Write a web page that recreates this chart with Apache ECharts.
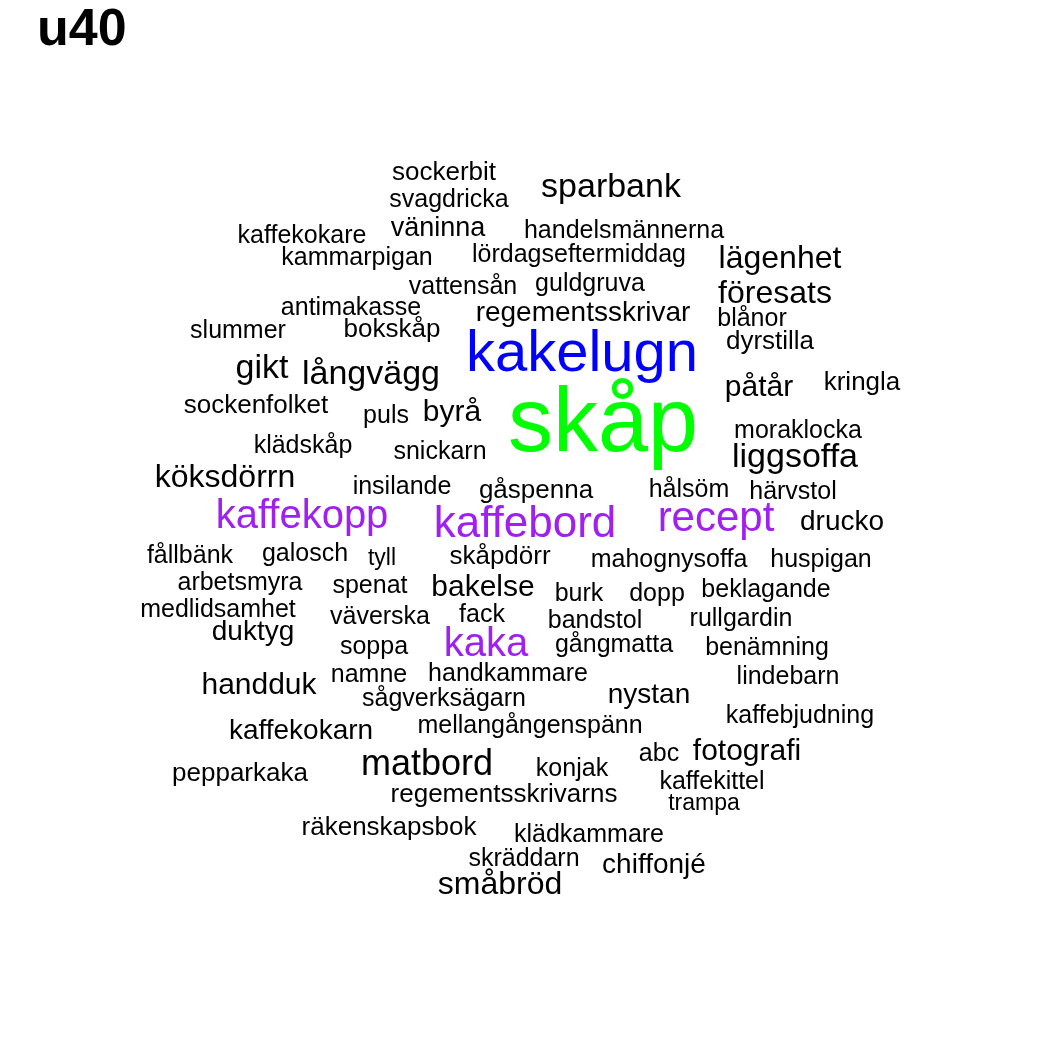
<!DOCTYPE html>
<html><head><meta charset="utf-8">
<script src="https://cdn.jsdelivr.net/npm/echarts@6/dist/echarts.min.js"></script>
<style>body{margin:0;background:#fff}#c{width:1050px;height:1050px}</style>
</head><body><div id="c"></div>
<script>
// word cloud: words placed in a hidden 0..1050 coordinate space
const words = ['sockerbit','svagdricka','sparbank','kaffekokare','väninna','handelsmännerna','kammarpigan','lördagseftermiddag','lägenhet','vattensån','guldgruva','föresats','antimakasse','regementsskrivar','blånor','slummer','bokskåp','kakelugn','dyrstilla','gikt','långvägg','påtår','kringla','sockenfolket','puls','byrå','skåp','moraklocka','klädskåp','snickarn','liggsoffa','köksdörrn','insilande','gåspenna','hålsöm','härvstol','kaffekopp','kaffebord','recept','drucko','fållbänk','galosch','tyll','skåpdörr','mahognysoffa','huspigan','arbetsmyra','spenat','bakelse','burk','dopp','beklagande','medlidsamhet','väverska','fack','bandstol','rullgardin','duktyg','soppa','kaka','gångmatta','benämning','namne','handkammare','lindebarn','handduk','sågverksägarn','nystan','kaffebjudning','kaffekokarn','mellangångenspänn','abc','fotografi','pepparkaka','matbord','konjak','kaffekittel','regementsskrivarns','trampa','räkenskapsbok','klädkammare','skräddarn','chiffonjé','småbröd'];
const xs = [444,449,611,302,438,624,357,579,780,463,590,775,351,583,752,238,392,582,770,262,371,759,862,256,386,452,603,798,303,440,795,225,402,536,689,793,302,525,716,842,190,305,382,500,669,821,240,370,483,579,657,766,218,380,482,595,741,253,374,486,614,767,369,508,788,259,444,649,800,301,530,659,747,240,427,572,712,504,704,389,589,524,654,500];
const ys = [173,200,188,236,229,231,258,255,259,287,284,294,308,313,319,331,330,355,342,369,375,388,383,406,416,413,426,431,446,452,458,478,487,491,490,492,517,525,519,522,556,554,559,557,560,560,583,586,588,594,594,590,610,617,615,621,619,632,647,645,645,648,675,674,677,686,699,695,716,731,726,754,752,774,765,769,782,795,804,828,835,859,865,885];
const sizes = [26,25,34,25,27,25,25,25,32,25,25,32,25,28,25,25,26,58,26,34,34,30,26,26,25,30,90,25,25,25,34,32,25,26,25,25,40,44,42,28,25,25,23,26,25,25,25,25,30,25,25,25,25,25,25,25,25,28,25,40,25,25,25,25,25,30,25,28,25,28,25,25,30,26,36,25,25,26,23,26,25,25,28,32];
const colorOf = {skåp:'#00ff00', kakelugn:'#0000ff', kaffekopp:'#a020f0', kaffebord:'#a020f0', recept:'#a020f0', kaka:'#a020f0'};
const FONT = 'Liberation Sans, Arial, sans-serif';

const data = words.map((w, i) => ({
  name: w, value: [xs[i], ys[i]],
  label: { fontSize: sizes[i], color: colorOf[w] || '#000000', fontFamily: FONT, opacity: 1 }
}));

const chart = echarts.init(document.getElementById('c'));
chart.setOption({
  animation: false,
  title: { text: 'u40', left: 32, top: 0, textStyle: { fontSize: 52, fontWeight: 'bold', color: '#000', fontFamily: FONT } },
  grid: { left: 0, right: 0, top: 0, bottom: 0 },
  xAxis: { type: 'value', min: 0, max: 1050, show: false },
  yAxis: { type: 'value', min: 0, max: 1050, inverse: true, show: false },
  series: [{
    type: 'scatter', symbolSize: 0, data,
    itemStyle: { opacity: 1 },
    label: { show: true, position: 'inside', formatter: p => p.name, fontFamily: FONT, color: '#000000', opacity: 1 },
    labelLayout: { hideOverlap: false }
  }]
});
</script></body></html>
